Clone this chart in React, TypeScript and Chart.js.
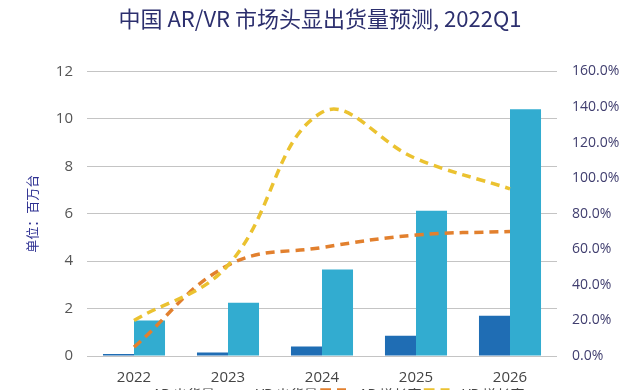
import React, { useEffect, useRef } from "react";
import { Chart, registerables } from "chart.js";

Chart.register(...registerables);

const years = ["2022", "2023", "2024", "2025", "2026"];
const arShipments = [0.08, 0.15, 0.4, 0.85, 1.7];
const vrShipments = [1.5, 2.25, 3.65, 6.12, 10.4];
const vrGrowth = [20, 51, 137, 111, 94];
const arGrowth = [5, 51, 61, 68, 70];
const leftTicks = [0, 2, 4, 6, 8, 10, 12];
const rightTicks = [0, 20, 40, 60, 80, 100, 120, 140, 160];

const titleText = "中国 AR/VR 市场头显出货量预测, 2022Q1";
const yTitle = "单位：百万台";
const seriesNames = ["AR 出货量", "VR 出货量", "AR 增长率", "VR 增长率"];

const FONT = "'Noto Sans CJK SC', 'Open Sans', sans-serif";
const NUMFONT = "'Open Sans', 'Noto Sans', sans-serif";

export default function App() {
  const ref = useRef<HTMLCanvasElement | null>(null);

  useEffect(() => {
    document.body.style.margin = "0";
    const canvas = ref.current!;
    const chart = new Chart(canvas, {
      type: "bar",
      data: {
        labels: years,
        datasets: [
          {
            type: "line",
            label: seriesNames[3],
            data: vrGrowth,
            yAxisID: "y1",
            borderColor: "#ebc230",
            backgroundColor: "#ebc230",
            borderWidth: 3.5,
            borderDash: [9, 6],
            pointRadius: 0,
            tension: 0.4,
            fill: false,
            order: 0,
          },
          {
            type: "line",
            label: seriesNames[2],
            data: arGrowth,
            yAxisID: "y1",
            borderColor: "#e2802e",
            backgroundColor: "#e2802e",
            borderWidth: 3.5,
            borderDash: [9, 6],
            pointRadius: 0,
            tension: 0.4,
            fill: false,
            order: 0,
          },
          {
            type: "bar",
            label: seriesNames[0],
            data: arShipments,
            yAxisID: "y",
            backgroundColor: "#1f6db4",
            barPercentage: 1,
            categoryPercentage: 0.66,
            order: 1,
          },
          {
            type: "bar",
            label: seriesNames[1],
            data: vrShipments,
            yAxisID: "y",
            backgroundColor: "#32acd0",
            barPercentage: 1,
            categoryPercentage: 0.66,
            order: 1,
          },
        ],
      },
      options: {
        responsive: false,
        animation: false,
        devicePixelRatio: 1,
        layout: { padding: { left: 0, right: 0, top: 0, bottom: 0 } },
        plugins: {
          title: {
            display: true,
            text: titleText,
            color: "#2c2f6e",
            font: { family: FONT, size: 22, weight: "normal" },
            padding: { top: 5, bottom: 40 },
          },
          legend: {
            display: true,
            position: "bottom",
            reverse: false,
            labels: {
              color: "#444",
              font: { family: FONT, size: 14 },
              padding: 4,
              boxWidth: 30,
              boxHeight: 10,
              sort: (a: any, b: any) =>
                seriesNames.indexOf(a.text) - seriesNames.indexOf(b.text),
            },
          },
          tooltip: { enabled: false },
        },
        scales: {
          x: {
            grid: { display: false, drawTicks: false },
            border: { display: false },
            ticks: {
              color: "#444",
              font: { family: NUMFONT, size: 15 },
              padding: 13,
            },
            afterFit: (s: any) => {
              s.height = 28;
            },
          },
          y: {
            position: "left",
            min: 0,
            max: 12,
            afterBuildTicks: (s: any) => {
              s.ticks = leftTicks.map((v) => ({ value: v }));
            },
            grid: { color: "#c4c4c4", lineWidth: 1, drawTicks: false },
            border: { display: false },
            ticks: {
              color: "#555",
              font: { family: NUMFONT, size: 15 },
              padding: 14,
            },
            title: {
              display: true,
              text: yTitle,
              color: "#2e3192",
              font: { family: FONT, size: 13 },
              padding: { top: 24, bottom: 0 },
            },
            afterFit: (s: any) => {
              s.width = 87;
            },
          },
          y1: {
            position: "right",
            min: 0,
            max: 160,
            afterBuildTicks: (s: any) => {
              s.ticks = rightTicks.map((v) => ({ value: v }));
            },
            grid: { display: false, drawTicks: false },
            border: { display: false },
            ticks: {
              color: "#3f3d6e",
              font: { family: NUMFONT, size: 14 },
              padding: 15,
              callback: (v: any) => `${Number(v).toFixed(1)}%`,
            },
            afterFit: (s: any) => {
              s.width = 83;
            },
          },
        },
      },
    });
    return () => chart.destroy();
  }, []);

  return (
    <div style={{ width: 640, height: 390, overflow: "hidden", background: "#fff" }}>
      <canvas ref={ref} width={640} height={412} />
    </div>
  );
}
